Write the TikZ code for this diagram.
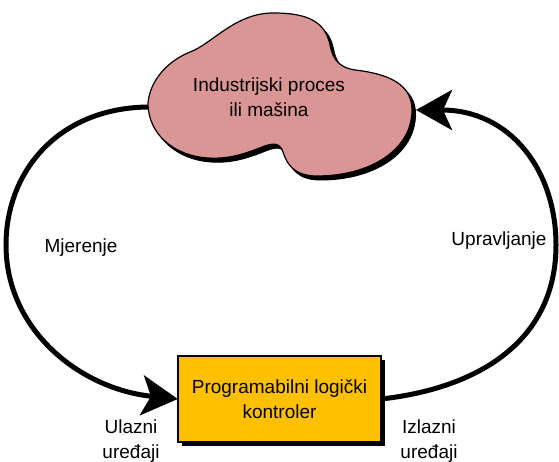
\documentclass[tikz,border=0pt]{standalone}
\usepackage{fontspec}
\setmainfont{Liberation Sans}
\usetikzlibrary{arrows.meta}
\definecolor{cloudfill}{HTML}{D99694}
\definecolor{boxfill}{HTML}{FFC000}
\tikzset{
  lbl/.style={font=\fontsize{19}{24.5}\selectfont,align=center,inner sep=0pt,text=black},
  loop/.style={line width=5pt,-{Stealth[length=36pt,width=40pt,inset=9pt]}},
}
\newcommand{\cloudpath}{(148,103) .. controls (150,80) and (168,61) .. (190,52)
  .. controls (212,44) and (235,13) .. (273,13)
  .. controls (305,13) and (325,20) .. (330,45)
  .. controls (333,62) and (342,68) .. (355,70)
  .. controls (390,74) and (412,85) .. (412,110)
  .. controls (412,150) and (370,176) .. (317,176)
  .. controls (295,176) and (287,165) .. (283,152)
  .. controls (280,142) and (272,143) .. (262,147)
  .. controls (240,156) and (225,159) .. (208,158)
  .. controls (175,156) and (148,135) .. (148,103) -- cycle}
\begin{document}
\begin{tikzpicture}[x=1pt,y=-1pt]
\useasboundingbox (0,0) rectangle (559,462);
% connectors
\node[inner sep=0pt,minimum width=203pt,minimum height=86pt] (plc) at (279.5,399) {};
\coordinate (cloudL) at (150,107);
\coordinate (cloudR) at (416,110);
\draw[loop] (cloudL) .. controls (60,107) and (6,170) .. (6,245)
  .. controls (6,330) and (80,389) .. (plc.west);
\draw[loop] (plc.east) .. controls (480,388) and (556,340) .. (556,245)
  .. controls (556,170) and (510,110) .. (cloudR);
% cloud
\draw[black,fill=black,line width=1pt,shift={(3.5,4)}] \cloudpath;
\draw[black,fill=cloudfill,line width=1.2pt] \cloudpath;
\node[lbl,inner sep=0pt] (cloud) at (269,97) {Industrijski proces\\ili mašina};
% box
\fill[black] (182,360) rectangle (385,446);
\node[draw=black,fill=boxfill,line width=1.2pt,inner sep=0pt,minimum width=203pt,minimum height=86pt,lbl] (plcbox) at (279.5,399) {Programabilni logički\\kontroler};
% labels
\node[lbl] (mj) at (81,248) {Mjerenje};
\node[lbl] (up) at (499,241) {Upravljanje};
\node[lbl] (ul) at (131,441) {Ulazni\\uređaji};
\node[lbl] (iz) at (429,441) {Izlazni\\uređaji};
\end{tikzpicture}
\end{document}
